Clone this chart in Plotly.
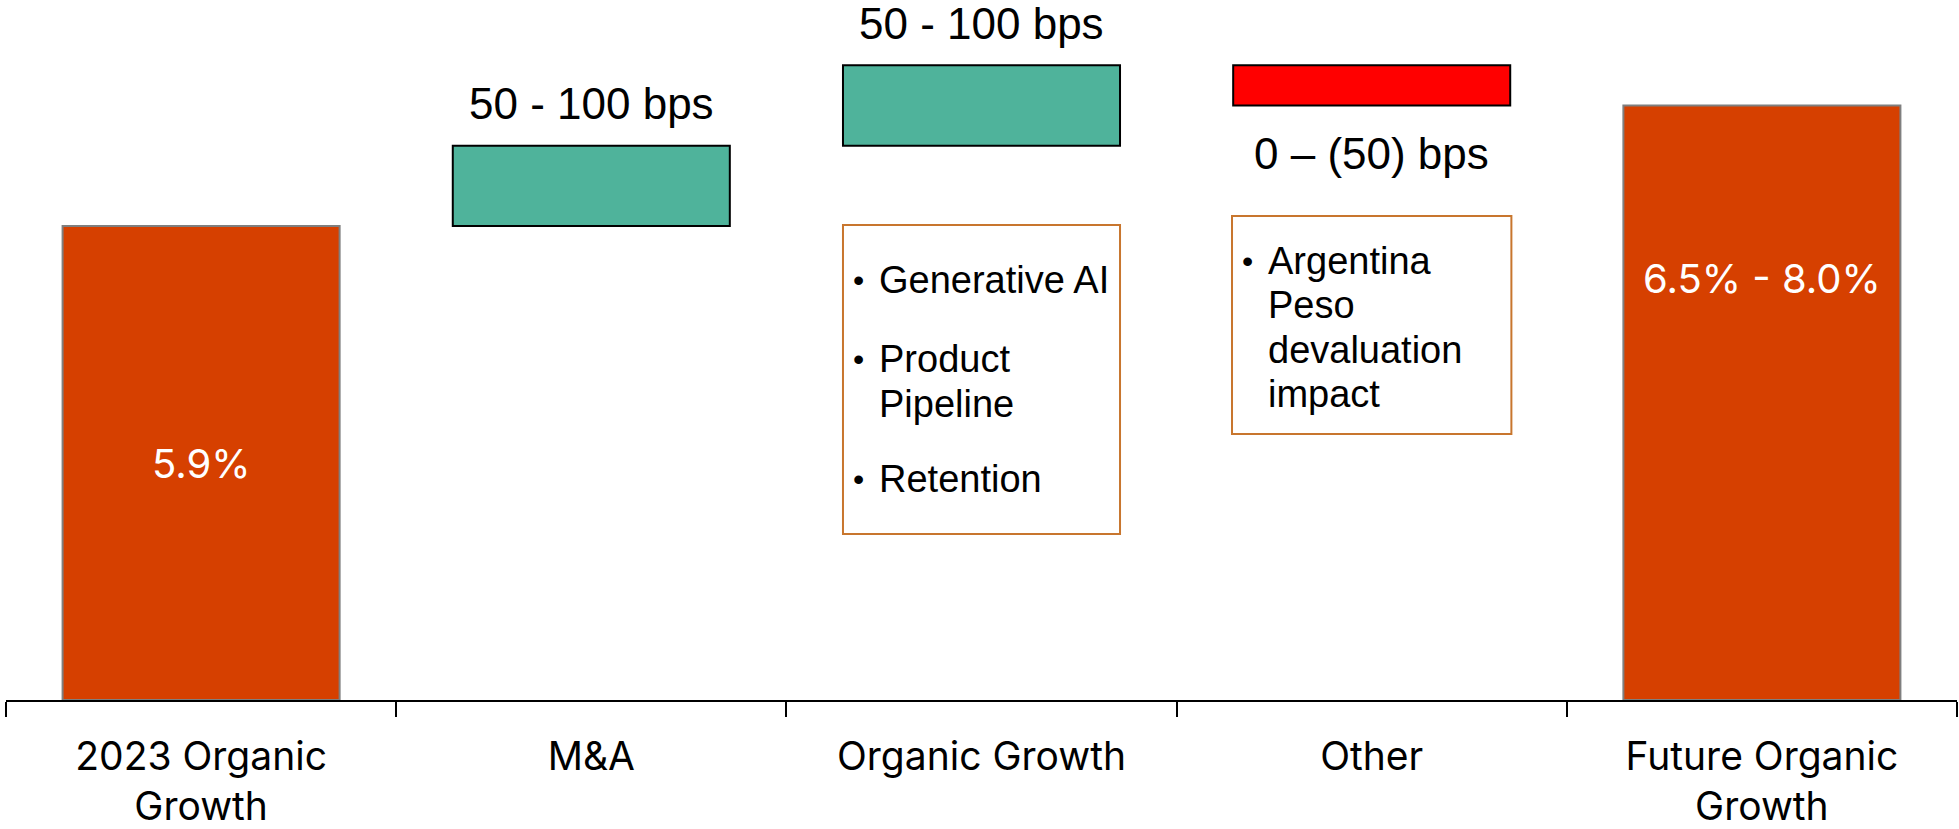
import plotly.graph_objects as go

# Bridge steps (percent)
categories = ["2023 Organic<br>Growth", "M&A", "Organic Growth", "Other", "Future Organic<br>Growth"]
measures = ["absolute", "relative", "relative", "relative", "total"]
values = [5.9, 1.0, 1.0, -0.5, 0]

# Range labels shown beside the bars
bar_labels = ["5.9%", None, None, None, "6.5% - 8.0%"]
step_labels = ["", "50 - 100 bps", "50 - 100 bps", "0 \u2013 (50) bps", ""]

# Driver notes for the middle steps
organic_notes = ["Generative AI", "Product|Pipeline", "Retention"]
other_notes = ["Argentina|Peso|devaluation|impact"]

TOTAL_COLOR = "#D64000"
UP_COLOR = "#4FB39B"
DOWN_COLOR = "#FF0000"
NOTE_BORDER = "#C8762E"
LABEL_FONT = "Inter, Roboto, sans-serif"
NOTE_FONT = "Liberation Sans, Arial, sans-serif"

W, H = 1959, 829
L, R, T, B = 6, 2, 0, 129
YMAX = 8.713
BAR_W = 0.71

fig = go.Figure(go.Waterfall(
    x=categories,
    y=values,
    measure=measures,
    width=BAR_W,
    connector={"visible": False},
    totals={"marker": {"color": TOTAL_COLOR, "line": {"color": "#7F7F7F", "width": 2}}},
    increasing={"marker": {"color": UP_COLOR, "line": {"color": "#000000", "width": 2}}},
    decreasing={"marker": {"color": DOWN_COLOR, "line": {"color": "#000000", "width": 2}}},
    hoverinfo="skip",
))

# running levels for label placement
levels = []
run = 0.0
for m, v in zip(measures, values):
    if m == "absolute":
        run = v
    elif m == "relative":
        run += v
    levels.append(run)

annotations = []
# value labels inside the total bars
annotations.append(dict(x=0, y=levels[0] / 2, text=bar_labels[0], showarrow=False,
                        font=dict(family=LABEL_FONT, size=40, color="white")))
annotations.append(dict(x=4, y=levels[4] - 2.15, text=bar_labels[4], showarrow=False,
                        font=dict(family=LABEL_FONT, size=40, color="white")))

# step range labels
step_offsets = {1: 0.52, 2: 0.52, 3: -0.6}
for i, off in step_offsets.items():
    top = max(levels[i], levels[i - 1])
    bot = min(levels[i], levels[i - 1])
    yy = top + off if off > 0 else bot + off
    annotations.append(dict(x=i, y=yy, text=step_labels[i], showarrow=False,
                            font=dict(family=NOTE_FONT, size=44, color="black")))

shapes = []


def note_box(cx, y0, y1, lines_y, notes, half=0.357):
    shapes.append(dict(type="rect", xref="x", yref="y", x0=cx - half, x1=cx + half,
                       y0=y0, y1=y1, line=dict(color=NOTE_BORDER, width=2),
                       fillcolor="rgba(0,0,0,0)"))
    k = 0
    for note in notes:
        parts = note.split("|")
        for j, p in enumerate(parts):
            yy = lines_y[k]
            if j == 0:
                annotations.append(dict(x=cx - half + 0.02, y=yy, text="\u2022", showarrow=False,
                                        xanchor="left", font=dict(family=NOTE_FONT, size=32, color="black")))
            annotations.append(dict(x=cx - half + 0.088, y=yy, text=p, showarrow=False,
                                    xanchor="left", font=dict(family=NOTE_FONT, size=38, color="black")))
            k += 1


def py(pix):
    return (700 - pix) * YMAX / 700


note_box(2, py(534), py(225), [py(280), py(359), py(404), py(479)], organic_notes, half=0.355)
note_box(3, py(434), py(216), [py(261), py(305), py(350), py(394)], other_notes, half=0.358)

fig.update_layout(
    width=W, height=H,
    margin=dict(l=L, r=R, t=T, b=B),
    paper_bgcolor="white", plot_bgcolor="white",
    showlegend=False,
    annotations=annotations,
    shapes=shapes,
    xaxis=dict(
        type="category",
        range=[-0.5, len(categories) - 0.5],
        automargin=False,
        showline=True, linecolor="black", linewidth=1.5,
        ticks="outside", ticklen=15, tickcolor="black", tickwidth=1.5,
        tickson="boundaries", ticklabelstandoff=21,
        tickfont=dict(family=LABEL_FONT, size=39, color="black"),
        showgrid=False, zeroline=False,
    ),
    yaxis=dict(range=[0, YMAX], visible=False, showgrid=False, zeroline=False),
)

fig.write_html("out.html")
